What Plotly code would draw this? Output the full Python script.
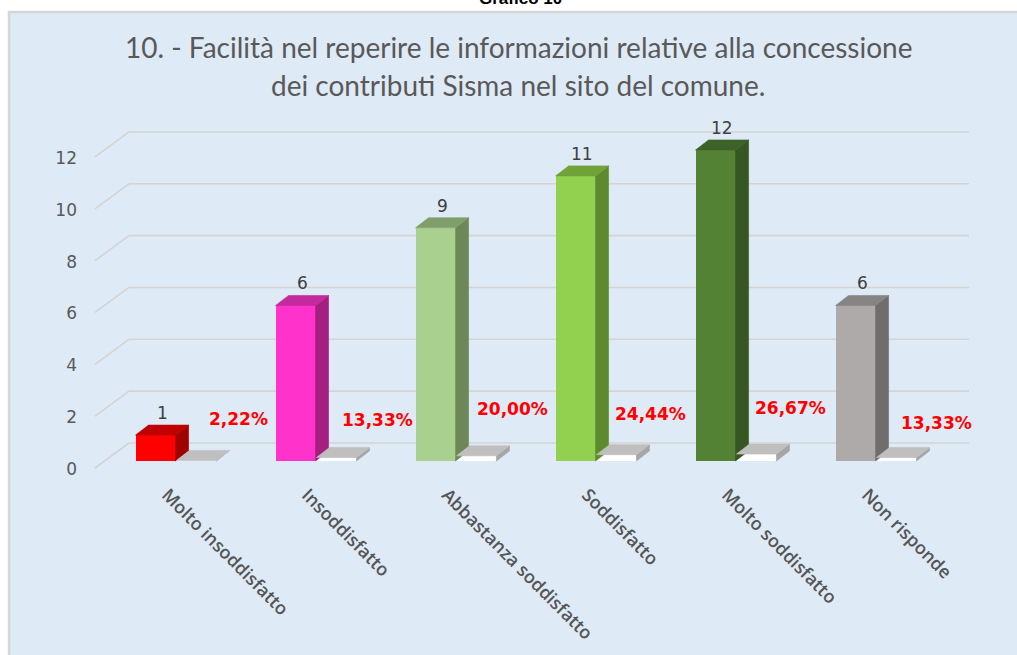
import plotly.graph_objects as go

# ---- data ----
categories = ["Molto insoddisfatto", "Insoddisfatto", "Abbastanza soddisfatto",
              "Soddisfatto", "Molto soddisfatto", "Non risponde"]
counts = [1, 6, 9, 11, 12, 6]
shares = [0.0222, 0.1333, 0.2000, 0.2444, 0.2667, 0.1333]
share_labels = ["2,22%", "13,33%", "20,00%", "24,44%", "26,67%", "13,33%"]
y_ticks = [0, 2, 4, 6, 8, 10, 12]

# ---- styling ----
front_cols = ["#FF0000", "#FF33CC", "#A9D08E", "#92D050", "#548235", "#AEAAAA"]
top_cols = ["#C00000", "#C42A9E", "#7F9E6A", "#6FA33A", "#3E6128", "#878484"]
side_cols = ["#A00000", "#A41F80", "#6C8858", "#5E8A2E", "#375623", "#706D6D"]
flat_front, flat_top, flat_side = "#FFFFFF", "#BFBFBF", "#A6A6A6"
chart_bg = "#DEEAF6"
# pixel nudges for the red share labels (x, y)
share_dx = [42, 41, 36, 34, 34, 40]
share_dy = [41, 38, 47, 41, 46, 35]

FIG_W, FIG_H = 1017, 655
L, R, T, B = 80, 17, 100, 175
PW, PH = FIG_W - L - R, FIG_H - T - B

X_STEP = 140.0             # px per category
Y_UNIT = 25.92             # px per count
x_range = [(L - 176) / X_STEP, (FIG_W - R - 176) / X_STEP]
y_range = [(461 - (FIG_H - B)) / Y_UNIT, (461 - T) / Y_UNIT]

BW = 40 / X_STEP           # bar width (data units)
DX = 13 / X_STEP           # 3-D depth offset, x
DY = 10 / Y_UNIT           # 3-D depth offset, y
OFF = 0.146                # half-spacing of the two series in a cluster


def px_x(p):
    return (p - L) / PW


def px_y(p):
    return (FIG_H - B - p) / PH


fig = go.Figure()


def add_box(xc, v, front, top, side):
    """Front face as a bar, side and top faces as filled polygons."""
    x0, x1 = xc - BW / 2, xc + BW / 2
    fig.add_trace(go.Bar(x=[xc], y=[v], width=BW,
                         marker=dict(color=front, line=dict(width=0)),
                         hoverinfo="skip", showlegend=False))
    fig.add_trace(go.Scatter(x=[x1, x1 + DX, x1 + DX, x1, x1],
                             y=[0, DY, v + DY, v, 0],
                             fill="toself", fillcolor=side, mode="lines",
                             line=dict(width=0.6, color=side),
                             hoverinfo="skip", showlegend=False))
    fig.add_trace(go.Scatter(x=[x0, x1, x1 + DX, x0 + DX, x0],
                             y=[v, v, v + DY, v + DY, v],
                             fill="toself", fillcolor=top, mode="lines",
                             line=dict(width=0.6, color=top),
                             hoverinfo="skip", showlegend=False))


for i, (c, s) in enumerate(zip(counts, shares)):
    add_box(i - OFF, c, front_cols[i], top_cols[i], side_cols[i])
    add_box(i + OFF, s, flat_front, flat_top, flat_side)

# page margin (white) above and left of the chart area, grey border on those edges
shapes = [
    dict(type="rect", xref="paper", yref="paper",
         x0=px_x(-5), x1=px_x(FIG_W + 5), y0=px_y(-5), y1=px_y(11),
         fillcolor="#FFFFFF", line=dict(width=0), layer="below"),
    dict(type="rect", xref="paper", yref="paper",
         x0=px_x(-5), x1=px_x(8), y0=px_y(-5), y1=px_y(FIG_H + 5),
         fillcolor="#FFFFFF", line=dict(width=0), layer="below"),
    dict(type="line", xref="paper", yref="paper",
         x0=px_x(8), x1=px_x(FIG_W + 5), y0=px_y(12), y1=px_y(12),
         line=dict(color="#D6D6D6", width=2.5), layer="below"),
    dict(type="line", xref="paper", yref="paper",
         x0=px_x(9), x1=px_x(9), y0=px_y(11), y1=px_y(FIG_H + 5),
         line=dict(color="#D6D6D6", width=2.5), layer="below"),
]

# perspective gridlines: short diagonal on the side wall, then across the back wall
GF = (461 - 468) / Y_UNIT
GB = (461 - 443) / Y_UNIT
XF, XB, XE = (95 - 176) / X_STEP, (129 - 176) / X_STEP, (969 - 176) / X_STEP
for v in y_ticks:
    shapes.append(dict(type="line", xref="x", yref="y", x0=XF, y0=v + GF,
                       x1=XB, y1=v + GB, line=dict(color="#D4D4D4", width=1.6),
                       layer="below"))
    shapes.append(dict(type="line", xref="x", yref="y", x0=XB, y0=v + GB,
                       x1=XE, y1=v + GB, line=dict(color="#D4D4D4", width=1.6),
                       layer="below"))

annotations = []
for i, c in enumerate(counts):
    annotations.append(dict(x=i - OFF + DX / 2, y=c + DY, xref="x", yref="y",
                            text=str(c), showarrow=False, yshift=12,
                            font=dict(family="DejaVu Sans", size=17, color="#404040")))
for i, s in enumerate(shares):
    annotations.append(dict(x=i + OFF, y=s, xref="x", yref="y",
                            text=share_labels[i], showarrow=False,
                            xshift=share_dx[i], yshift=share_dy[i],
                            font=dict(family="DejaVu Sans", size=17, color="#FF0000",
                                      weight="bold")))

title_font = dict(family="Lato", size=28, color="#595959")
annotations += [
    dict(x=px_x(518), y=px_y(47), xref="paper", yref="paper", showarrow=False,
         xanchor="center", yanchor="middle",
         text="10. - Facilità nel reperire le informazioni relative alla concessione",
         font=title_font),
    dict(x=px_x(518), y=px_y(85), xref="paper", yref="paper", showarrow=False,
         xanchor="center", yanchor="middle",
         text="dei contributi Sisma nel sito del comune.", font=title_font),
    dict(x=px_x(520), y=px_y(10), xref="paper", yref="paper", showarrow=False,
         xanchor="center", yanchor="bottom", text="<b>Grafico 10</b>",
         font=dict(family="Liberation Sans", size=17, color="#000000")),
]

fig.update_layout(
    width=FIG_W, height=FIG_H,
    margin=dict(l=L, r=R, t=T, b=B, pad=0),
    paper_bgcolor=chart_bg, plot_bgcolor="rgba(0,0,0,0)",
    barmode="overlay", bargap=0,
    shapes=shapes, annotations=annotations,
    xaxis=dict(range=x_range, tickmode="array", tickvals=list(range(len(categories))),
               ticktext=categories, tickangle=45, showgrid=False, zeroline=False,
               showline=False, ticks="", ticklabelshift=-9,
               tickfont=dict(family="Open Sans", size=18, color="#555555",
                             weight=600)),
    yaxis=dict(range=y_range, tickmode="array", tickvals=y_ticks, showgrid=False,
               zeroline=False, showline=False, ticks="", ticklabelshift=8,
               ticklabelstandoff=2,
               tickfont=dict(family="DejaVu Sans", size=17, color="#595959")),
)

fig.write_html(
    "out.html",
    post_script="document.documentElement.style.overflow='hidden';"
                "document.body.style.overflow='hidden';",
)
